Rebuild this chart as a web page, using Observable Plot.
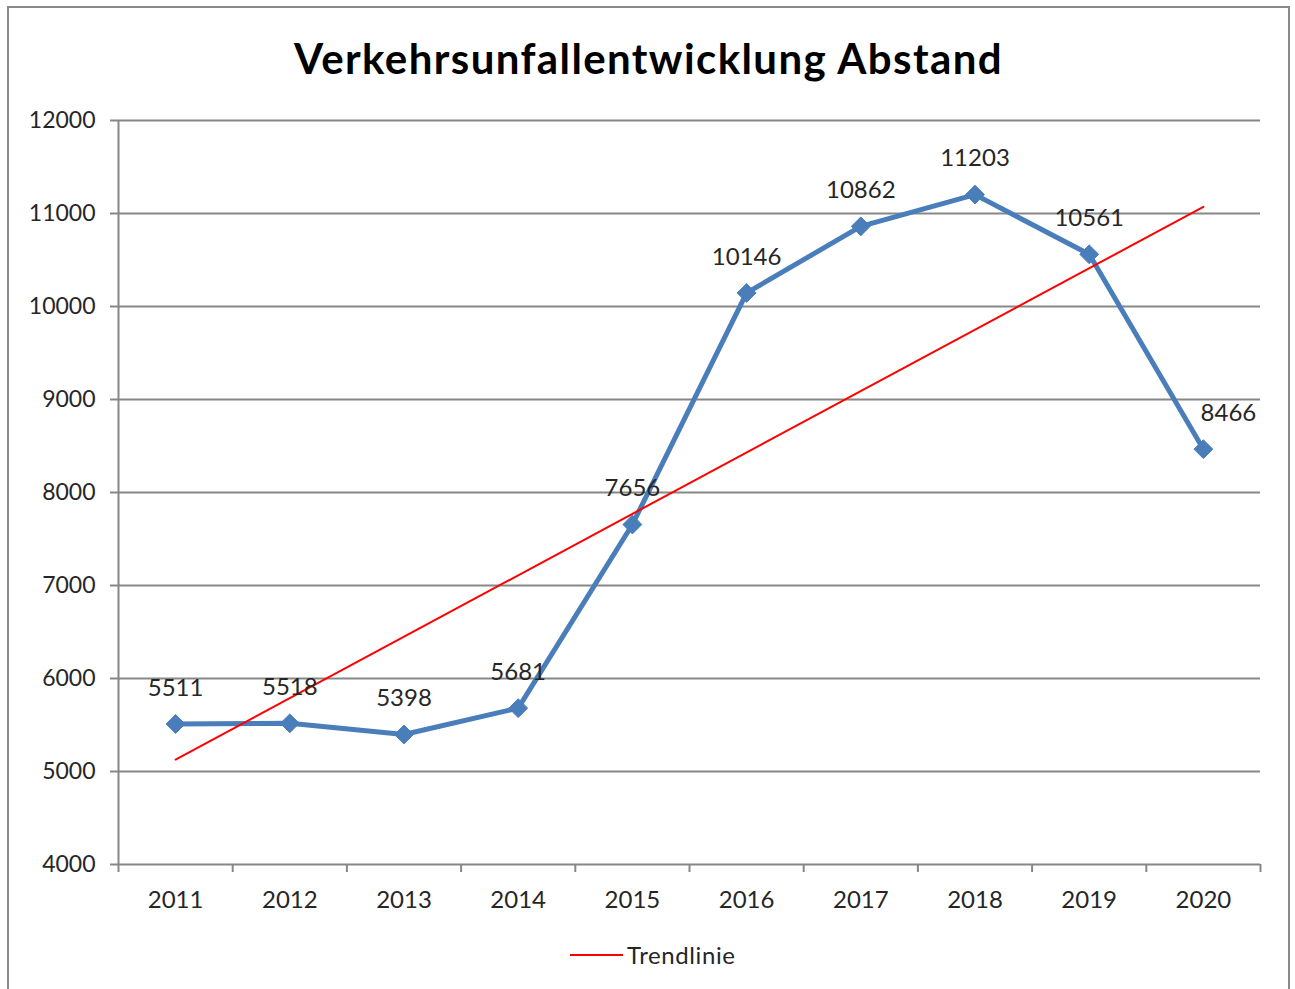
<!DOCTYPE html>
<html>
<head>
<meta charset="utf-8">
<script src="https://cdn.jsdelivr.net/npm/d3@7"></script>
<script src="https://cdn.jsdelivr.net/npm/@observablehq/plot@0.6"></script>
<style>
  html, body { margin: 0; padding: 0; background: #fff; overflow: hidden; width: 1295px; height: 989px; }
  #frame { position: absolute; left: 7px; top: 6px; width: 1283px; height: 1010px; border: 2px solid #8a8a8a; box-sizing: border-box; }
  #title { position: absolute; left: 0; width: 1297px; top: 31px; text-align: center; font-family: Lato, sans-serif; font-weight: 700; font-size: 42px; letter-spacing: 1.4px; color: #000; line-height: 54px; }
  #chart { position: absolute; left: 0; top: 0; }
  #legend { position: absolute; left: 570px; top: 940px; font-family: Lato, sans-serif; font-size: 24px; letter-spacing: 0.6px; color: #262626; display: flex; align-items: center; }
  #legend .sw { display: inline-block; width: 53px; height: 2px; background: #ff0000; margin-right: 4px; }
</style>
</head>
<body>
<div id="frame"></div>
<div id="title">Verkehrsunfallentwicklung Abstand</div>
<div id="chart"></div>
<div id="legend"><span class="sw"></span><span>Trendlinie</span></div>
<script>
const years = [2011, 2012, 2013, 2014, 2015, 2016, 2017, 2018, 2019, 2020];
const accidents = [5511, 5518, 5398, 5681, 7656, 10146, 10862, 11203, 10561, 8466];
const yTicks = [4000, 5000, 6000, 7000, 8000, 9000, 10000, 11000, 12000];

const data = years.map((year, i) => ({year, value: accidents[i], last: i === years.length - 1}));

// linear trend (least squares) computed from the data
const n = years.length;
const mx = d3.mean(years), my = d3.mean(accidents);
const slope = d3.sum(years, (x, i) => (x - mx) * (accidents[i] - my)) / d3.sum(years, x => (x - mx) ** 2);
const trend = [years[0], years[n - 1]].map(x => ({year: x, value: my + slope * (x - mx)}));

const boundaries = years.map(y => y - 0.5).concat([years[n - 1] + 0.5]);
const gray = "#878787";
const font = "Lato, sans-serif";

const chart = Plot.plot({
  width: 1295,
  height: 920,
  marginLeft: 118,
  marginRight: 35,
  marginTop: 120,
  marginBottom: 56,
  style: {fontFamily: font, fontSize: "22px", color: "#262626", background: "transparent"},
  x: {type: "linear", domain: [years[0] - 0.5, years[n - 1] + 0.5]},
  y: {domain: [yTicks[0], yTicks[yTicks.length - 1]]},
  marks: [
    Plot.gridY(yTicks, {stroke: gray, strokeOpacity: 1, strokeWidth: 2}),
    Plot.axisY({ticks: yTicks, tickSize: 8, tickPadding: 15, stroke: gray, strokeWidth: 2, fontSize: 23, fill: "#262626", label: null, tickFormat: d => String(d)}),
    Plot.ruleX([years[0] - 0.5], {stroke: gray, strokeWidth: 2}),
    Plot.axisX({ticks: boundaries, tickSize: 8, stroke: gray, strokeWidth: 2, tickFormat: () => "", label: null}),
    Plot.axisX({ticks: years, tickSize: 0, tickPadding: 26, fontSize: 24, fill: "#262626", label: null, tickFormat: d => String(d)}),
    Plot.line(data, {x: "year", y: "value", stroke: "#4a7ebb", strokeWidth: 5, strokeLinejoin: "round"}),
    Plot.dot(data, {x: "year", y: "value", symbol: "diamond2", r: 8.5, fill: "#4a7ebb", stroke: "#4a7ebb", strokeWidth: 1}),
    Plot.line(trend, {x: "year", y: "value", stroke: "#ff0000", strokeWidth: 2}),
    Plot.text(data.filter(d => !d.last), {x: "year", y: "value", text: d => String(d.value), dy: -36, fontSize: 24, fill: "#262626"}),
    Plot.text(data.filter(d => d.last), {x: "year", y: "value", text: d => String(d.value), dy: -36, dx: 25, fontSize: 24, fill: "#262626"})
  ]
});
document.getElementById("chart").appendChild(chart);
</script>
</body>
</html>
